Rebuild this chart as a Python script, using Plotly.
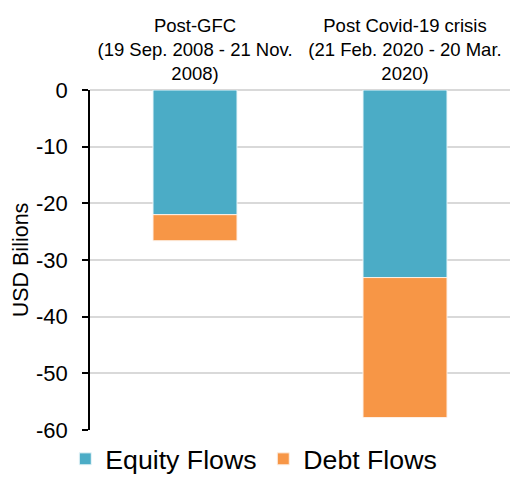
import plotly.graph_objects as go

categories = ["Post-GFC<br>(19 Sep. 2008 - 21 Nov.<br>2008)",
              "Post Covid-19 crisis<br>(21 Feb. 2020 - 20 Mar.<br>2020)"]
equity_flows = [-22.0, -33.1]
debt_flows = [-4.6, -24.7]
y_ticks = [0, -10, -20, -30, -40, -50, -60]

FONT = "Liberation Sans, Arial, sans-serif"

fig = go.Figure()
fig.add_trace(go.Bar(x=categories, y=equity_flows, name="Equity Flows",
                     marker=dict(color="#4BACC6", line=dict(color="#eaf6f9", width=1)),
                     width=0.4))
fig.add_trace(go.Bar(x=categories, y=debt_flows, name="Debt Flows",
                     marker=dict(color="#F79646", line=dict(color="#fdf0e6", width=1)),
                     width=0.4))

fig.update_layout(
    width=510, height=483,
    barmode="relative",
    paper_bgcolor="white", plot_bgcolor="white",
    margin=dict(l=90, r=0, t=90, b=53, autoexpand=False),
    font=dict(family=FONT, color="black"),
    showlegend=True,
    legend=dict(orientation="h", xref="container", yref="container",
                x=0.128, y=-0.042, xanchor="left", yanchor="bottom",
                font=dict(size=26.7, family=FONT), entrywidth=153,
                traceorder="normal", bgcolor="rgba(0,0,0,0)"),
    xaxis=dict(side="top", type="category", showgrid=False, showline=False,
               ticks="", tickfont=dict(size=18.5, family=FONT),
               ticklabelstandoff=5,
               range=[-0.5, 1.5]),
    yaxis=dict(range=[-60, 0], tickvals=y_ticks, ticktext=[str(v) for v in y_ticks],
               showgrid=True, gridcolor="#d9d9d9", gridwidth=1.5,
               zeroline=True, zerolinecolor="#d9d9d9", zerolinewidth=1.5,
               showline=True, linecolor="black", linewidth=1.5,
               ticks="outside", ticklen=6, tickcolor="black", tickwidth=1.5,
               tickfont=dict(size=22, family=FONT), ticklabelstandoff=10,
               title=dict(text="USD Bilions", font=dict(size=21.5, family=FONT), standoff=2)),
)

fig.write_html("out.html")
